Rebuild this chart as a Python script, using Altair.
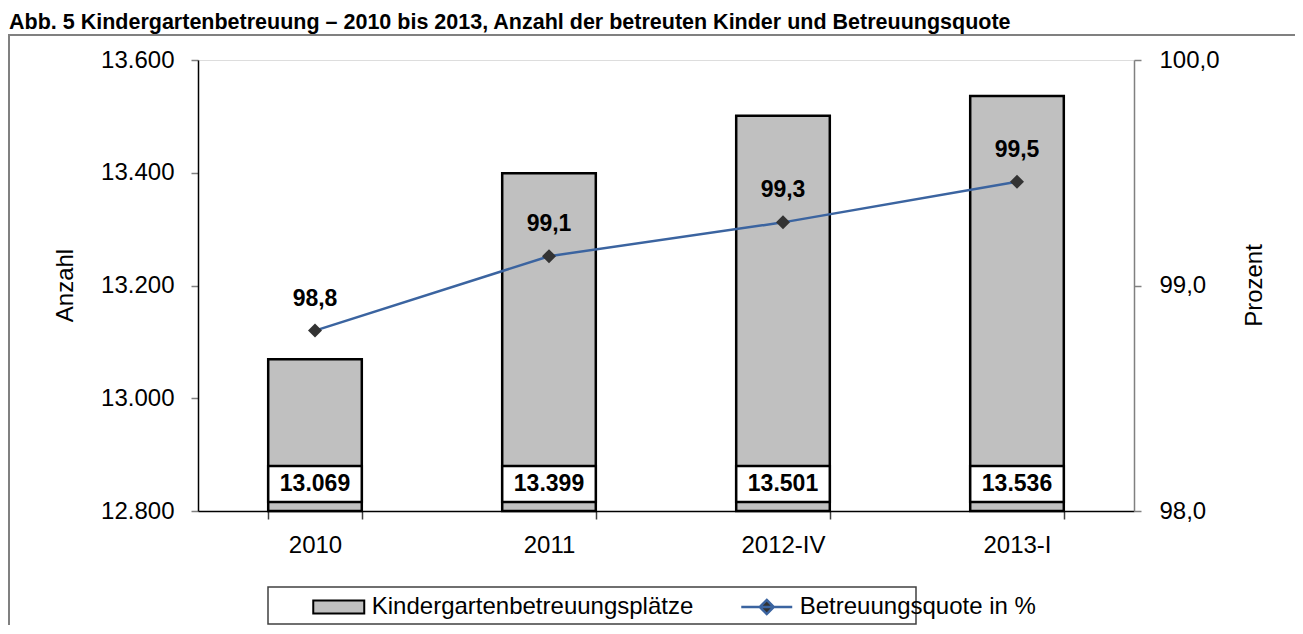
import altair as alt
import pandas as pd

years = ["2010", "2011", "2012-IV", "2013-I"]
places = [13069, 13399, 13501, 13536]
quota = [98.8, 99.13, 99.28, 99.46]
quota_text = ["98,8", "99,1", "99,3", "99,5"]
left_ticks = [12800, 13000, 13200, 13400, 13600]
right_ticks = [98, 99, 100]
title_text = "Abb. 5 Kindergartenbetreuung – 2010 bis 2013, Anzahl der betreuten Kinder und Betreuungsquote"
bar_name = "Kindergartenbetreuungsplätze"
line_name = "Betreuungsquote in %"

df = pd.DataFrame({
    "Jahr": years,
    "Plaetze": places,
    "Quote": quota,
    "QuoteText": quota_text,
    "PlaetzeText": [f"{v:,}".replace(",", ".") for v in places],
    "SerieBar": [bar_name] * len(years),
    "SerieLine": [line_name] * len(years),
})
one = pd.DataFrame({"k": [0]})
title_df = pd.DataFrame({"t": [title_text]})

FONT = "Liberation Sans"

x_enc = alt.X(
    "Jahr:N", sort=years,
    scale=alt.Scale(paddingInner=0.6, paddingOuter=0.3),
    axis=alt.Axis(title=None, labelAngle=0, tickBand="extent", labelFontSize=24,
                  labelFont=FONT, labelColor="black", domainColor="black",
                  domainWidth=1.5, tickColor="#404040", tickWidth=1.5, tickSize=8,
                  labelPadding=14, grid=False),
)

left_scale = alt.Scale(domain=[12800, 13600], nice=False, zero=False)
left_axis = alt.Axis(orient="left", values=left_ticks,
                     labelExpr="replace(format(datum.value, ','), ',', '.')",
                     title="Anzahl", titleFont=FONT, titleFontSize=24, titleFontWeight="normal",
                     titleColor="black", titleAngle=270, titleX=-133, titleY=225,
                     titleBaseline="middle",
                     labelFont=FONT, labelFontSize=24, labelColor="black",
                     domainColor="black", domainWidth=1.5, tickColor="#808080",
                     tickWidth=1.5, tickSize=7, labelPadding=17, grid=False)

right_scale = alt.Scale(domain=[98, 100], nice=False, zero=False)
right_axis = alt.Axis(orient="right", values=right_ticks,
                      labelExpr="replace(format(datum.value, '.1f'), '.', ',')",
                      title="Prozent", titleFont=FONT, titleFontSize=24, titleFontWeight="normal",
                      titleColor="black", titleAngle=270, titleX=120, titleY=225,
                      titleBaseline="middle",
                      labelFont=FONT, labelFontSize=24, labelColor="black",
                      domainColor="#808080", domainWidth=1.5, tickColor="#808080",
                      tickWidth=1.5, tickSize=7, labelPadding=18, grid=False)

bars = alt.Chart(df).mark_bar(stroke="black", strokeWidth=2.5).encode(
    x=x_enc,
    y=alt.Y("Plaetze:Q", scale=left_scale, axis=left_axis),
    y2=alt.Y2(datum=12800),
    fill=alt.Fill("SerieBar:N",
                  scale=alt.Scale(domain=[bar_name], range=["#C0C0C0"]),
                  legend=alt.Legend(title=None, orient="none", legendX=126.75, legendY=533,
                                    symbolType="M-2,-0.51H2V0.51H-2Z", symbolSize=650,
                                    symbolStrokeColor="black", symbolStrokeWidth=2,
                                    symbolFillColor="#C0C0C0", symbolOpacity=1,
                                    labelFontSize=24, labelFont=FONT, labelColor="black",
                                    labelOffset=19, labelLimit=600, padding=0)),
)

boxes = alt.Chart(df).mark_bar(fill="white", stroke="black", strokeWidth=2.5).encode(
    x=x_enc,
    y=alt.Y(datum=12816, type="quantitative", scale=left_scale, axis=left_axis),
    y2=alt.Y2(datum=12880),
)

box_text = alt.Chart(df).mark_text(font=FONT, fontWeight="bold", fontSize=23,
                                   color="black", baseline="middle").encode(
    x=x_enc,
    y=alt.Y(datum=12848, type="quantitative", scale=left_scale, axis=left_axis),
    text="PlaetzeText:N",
)

line = alt.Chart(df).mark_line(strokeWidth=2.5).encode(
    x=x_enc,
    y=alt.Y("Quote:Q", scale=right_scale, axis=right_axis),
    stroke=alt.Stroke("SerieLine:N",
                      scale=alt.Scale(domain=[line_name], range=["#3B64A0"]),
                      legend=alt.Legend(title=None, orient="none", legendX=554.75, legendY=533,
                                        symbolType="M-2,0H2M0,-0.55L0.55,0L0,0.55L-0.55,0Z",
                                        symbolSize=650, symbolStrokeWidth=2.5,
                                        symbolFillColor="#333333",
                                        labelFontSize=24, labelFont=FONT, labelColor="black",
                                        labelOffset=19, labelLimit=600, padding=0)),
)

points = alt.Chart(df).mark_point(shape="diamond", filled=True, size=196,
                                  color="#333333", opacity=1).encode(
    x=x_enc,
    y=alt.Y("Quote:Q", scale=right_scale, axis=right_axis),
)

point_text = alt.Chart(df).mark_text(font=FONT, fontWeight="bold", fontSize=23,
                                     color="black", baseline="middle", dy=-32).encode(
    x=x_enc,
    y=alt.Y("Quote:Q", scale=right_scale, axis=right_axis),
    text="QuoteText:N",
)

frame = alt.Chart(one).mark_rect(filled=False, stroke="#808080", strokeWidth=2).encode(
    x=alt.value(-189), x2=alt.value(1300), y=alt.value(-25), y2=alt.value(800)
)

legend_box = alt.Chart(one).mark_rect(filled=False, stroke="#404040", strokeWidth=1.5).encode(
    x=alt.value(70), x2=alt.value(718), y=alt.value(527), y2=alt.value(564)
)

title_mark = alt.Chart(title_df).mark_text(
    font=FONT, fontWeight="bold", fontSize=21.5, color="black",
    align="left", baseline="alphabetic"
).encode(x=alt.value(-189), y=alt.value(-31), text="t:N")

left = alt.layer(bars, boxes, box_text)
right = alt.layer(line, points, point_text)

chart = alt.layer(left, right, frame, legend_box, title_mark).resolve_scale(
    y="independent"
).properties(
    width=936, height=451,
    padding={"left": 190, "top": 52, "right": 161, "bottom": 114},
    autosize=alt.AutoSizeParams(type="none"),
).configure_view(strokeWidth=0).configure(background="white")

chart.save("out.html", embed_options={"renderer": "svg", "actions": False})
